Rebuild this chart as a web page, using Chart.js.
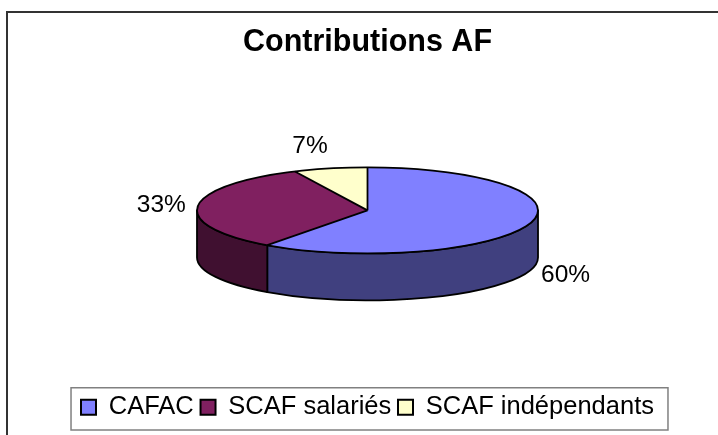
<!DOCTYPE html>
<html>
<head>
<meta charset="utf-8">
<script src="https://cdn.jsdelivr.net/npm/chart.js@4/dist/chart.umd.min.js"></script>
<style>
	body { margin: 0; background: #fff; }
</style>
</head>
<body>
<canvas id="chart-canvas" width="718" height="435"></canvas>
<script>
const categories = ['CAFAC', 'SCAF salariés', 'SCAF indépendants']
const values = [60, 33, 7]
const top_colours = ['#8080ff', '#802060', '#ffffcc']
const side_colours = ['#40407f', '#401030', '#80806a']
const chart_title = 'Contributions AF'

// look of the tilted pie
const tilt = 0.252
const depth = 47

function ellipse_centre(arc) {
	// the flat top sits half a depth above the middle of the chart area
	return arc.y - depth / 2
}

function get_percentage(index) {
	let total = values.reduce((a, b) => a + b, 0)
	return `${Math.round(values[index] / total * 100)}%`
}

const pie_3d = {
	id: 'pie_3d',

	beforeDatasetsDraw(chart) {
		let ctx = chart.ctx
		let arcs = chart.getDatasetMeta(0).data

		// front walls, only the part of each slice that faces us (0..PI)
		ctx.save()
		ctx.lineWidth = 1.8
		ctx.strokeStyle = '#000'
		ctx.lineJoin = 'round'
		arcs.forEach((arc, i) => {
			let cy = ellipse_centre(arc)
			let ry = arc.outerRadius * tilt
			for (let shift of [-2 * Math.PI, 0, 2 * Math.PI]) {
				let a = Math.max(arc.startAngle, shift)
				let b = Math.min(arc.endAngle, shift + Math.PI)
				if (a >= b) {
					continue
				}
				ctx.beginPath()
				ctx.ellipse(arc.x, cy, arc.outerRadius, ry, 0, a, b)
				ctx.ellipse(arc.x, cy + depth, arc.outerRadius, ry, 0, b, a, true)
				ctx.closePath()
				ctx.fillStyle = side_colours[i]
				ctx.fill()
				ctx.stroke()
			}
		})
		ctx.restore()

		// squash the library's own slices into the top of the disc
		let arc = arcs[0]
		ctx.save()
		ctx.translate(0, ellipse_centre(arc))
		ctx.scale(1, tilt)
		ctx.translate(0, -arc.y)
	},

	afterDatasetsDraw(chart) {
		let ctx = chart.ctx
		ctx.restore()

		let arcs = chart.getDatasetMeta(0).data
		let arc = arcs[0]
		let cy = ellipse_centre(arc)
		let ry = arc.outerRadius * tilt

		ctx.save()
		ctx.lineWidth = 1.8
		ctx.strokeStyle = '#000'
		ctx.lineJoin = 'round'
		ctx.beginPath()
		ctx.ellipse(arc.x, cy, arc.outerRadius, ry, 0, 0, 2 * Math.PI)
		ctx.stroke()
		arcs.forEach((a) => {
			ctx.beginPath()
			ctx.moveTo(a.x, cy)
			ctx.lineTo(a.x + a.outerRadius * Math.cos(a.startAngle), cy + ry * Math.sin(a.startAngle))
			ctx.stroke()
		})

		// percentage labels outside the slices
		ctx.fillStyle = '#000'
		ctx.font = "24.5px 'Liberation Sans', Arial, sans-serif"
		arcs.forEach((a, i) => {
			let mid = (a.startAngle + a.endAngle) / 2
			let cos = Math.cos(mid)
			let sin = Math.sin(mid)
			let px = a.x + a.outerRadius * cos
			let py = cy + ry * sin
			if (sin > 0) {
				py += depth
			}
			ctx.textAlign = cos >= 0 ? 'left' : 'right'
			ctx.textBaseline = sin < -0.7 ? 'alphabetic' : 'middle'
			ctx.fillText(get_percentage(i), px + cos * 12, py + sin * 16)
		})
		ctx.restore()
	},

	afterDraw(chart) {
		let ctx = chart.ctx
		ctx.save()

		// outer chart frame
		ctx.strokeStyle = '#333'
		ctx.lineWidth = 2
		ctx.strokeRect(7, 12, 760, 500)

		// box round the legend
		let legend = chart.legend
		let boxes = legend.legendHitBoxes
		let left = Math.min(...boxes.map(b => b.left)) - 10
		let right = Math.max(...boxes.map(b => b.left + b.width)) + 14
		ctx.strokeStyle = '#808080'
		ctx.lineWidth = 1.5
		ctx.strokeRect(left, legend.top, right - left, legend.height)
		ctx.restore()
	}
}

Chart.defaults.font.family = "'Liberation Sans', Arial, sans-serif"
Chart.defaults.color = '#000'

new Chart(document.getElementById('chart-canvas'), {
	type: 'pie',
	data: {
		labels: categories,
		datasets: [{
			data: values,
			backgroundColor: top_colours,
			borderWidth: 0,
			hoverOffset: 0,
			radius: 170.5,
			clip: false
		}]
	},
	options: {
		responsive: false,
		animation: false,
		events: [],
		layout: {
			padding: { left: 17, right: 0, top: 12, bottom: 5 }
		},
		plugins: {
			title: {
				display: true,
				text: chart_title,
				font: { size: 30.5, weight: 'bold' },
				padding: { top: 12.2, bottom: 19.2 }
			},
			legend: {
				position: 'bottom',
				labels: {
					font: { size: 25.5 },
					boxWidth: 15,
					boxHeight: 15,
					padding: 6.75,
					generateLabels(chart) {
						let items = Chart.overrides.pie.plugins.legend.labels.generateLabels(chart)
						items.forEach(item => {
							item.strokeStyle = '#000'
							item.lineWidth = 2
						})
						return items
					}
				}
			},
			tooltip: { enabled: false }
		}
	},
	plugins: [pie_3d]
})
</script>
</body>
</html>
